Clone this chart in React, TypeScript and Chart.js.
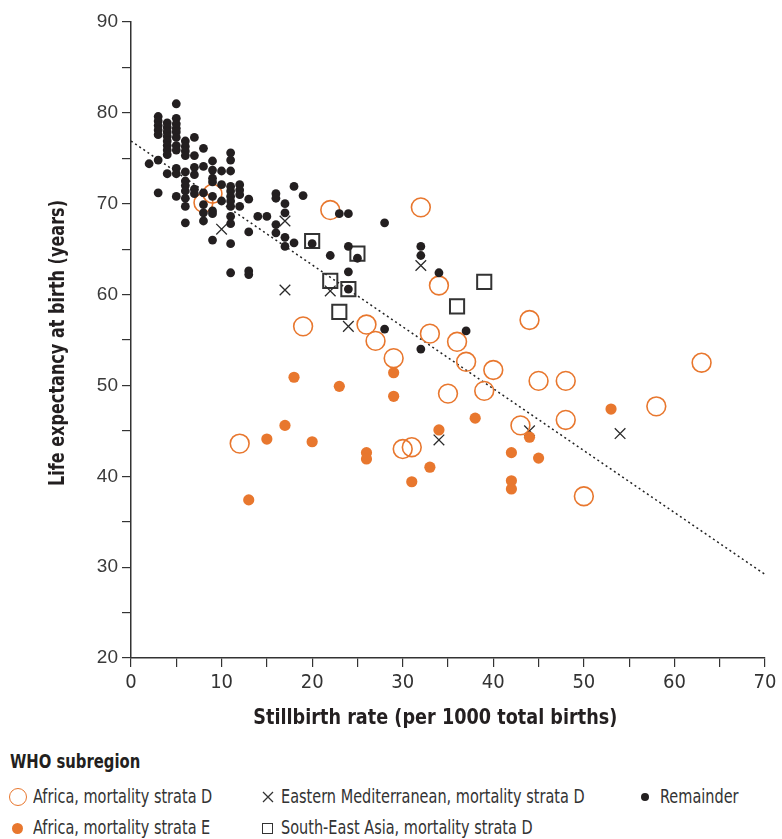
import React, { useEffect, useRef } from "react";
import { Chart, registerables } from "chart.js";

Chart.register(...registerables);

// ---- Data (stillbirth rate, life expectancy) ----
const africaD: [number, number][] = [
  [8, 70.1], [9, 71.1], [12, 43.6], [19, 56.5], [22, 69.3], [26, 56.7], [27, 54.9],
  [29, 53.0], [30, 43.0], [31, 43.2], [32, 69.6], [33, 55.7], [34, 61.0], [35, 49.1],
  [36, 54.8], [37, 52.6], [39, 49.4], [40, 51.7], [43, 45.6], [44, 57.2], [45, 50.5],
  [48, 50.5], [48, 46.2], [50, 37.8], [58, 47.7], [63, 52.5],
];

const africaE: [number, number][] = [
  [13, 37.4], [15, 44.1], [17, 45.6], [18, 50.9], [20, 43.8], [23, 49.9], [26, 42.6],
  [26, 41.9], [29, 51.4], [29, 48.8], [31, 39.4], [33, 41.0], [34, 45.1], [38, 46.4],
  [42, 42.6], [42, 39.5], [42, 38.6], [44, 44.3], [45, 42.0], [53, 47.4],
];

const eastMed: [number, number][] = [
  [10, 67.2], [17, 68.1], [17, 60.5], [22, 60.4], [24, 56.5], [32, 63.2], [34, 44.0],
  [44, 45.0], [54, 44.7],
];

const seAsia: [number, number][] = [
  [20, 65.9], [22, 61.5], [23, 58.1], [24, 60.6], [25, 64.5], [36, 58.7], [39, 61.4],
];

const remainder: [number, number][] = [
  [2, 74.4],
  [3, 79.6], [3, 79.1], [3, 78.6], [3, 78.1], [3, 77.6], [3, 74.8], [3, 71.2],
  [4, 78.9], [4, 78.4], [4, 77.9], [4, 77.4], [4, 76.9], [4, 76.4], [4, 75.9], [4, 75.4], [4, 73.3],
  [5, 81.0], [5, 79.4], [5, 78.8], [5, 78.3], [5, 77.9], [5, 77.3], [5, 76.4], [5, 75.9], [5, 73.9], [5, 73.3], [5, 70.8],
  [6, 76.9], [6, 76.3], [6, 75.8], [6, 75.3], [6, 73.5], [6, 72.5], [6, 72.0], [6, 71.4], [6, 70.6], [6, 69.7], [6, 67.9],
  [7, 77.3], [7, 75.3], [7, 74.0], [7, 73.2], [7, 71.6], [7, 71.1],
  [8, 76.1], [8, 74.1], [8, 71.2], [8, 69.9], [8, 69.0], [8, 68.1],
  [9, 74.7], [9, 73.7], [9, 72.8], [9, 72.4], [9, 70.8], [9, 69.2], [9, 68.9], [9, 66.0],
  [10, 73.6], [10, 72.1], [10, 70.3],
  [11, 75.6], [11, 74.8], [11, 73.6], [11, 71.9], [11, 71.4], [11, 70.8], [11, 70.3], [11, 69.7], [11, 68.6], [11, 67.8], [11, 65.6], [11, 62.4],
  [12, 72.1], [12, 71.5], [12, 71.0], [12, 69.7],
  [13, 70.5], [13, 66.9], [13, 62.6], [13, 62.2],
  [14, 68.6], [15, 68.6],
  [16, 71.1], [16, 70.6], [16, 67.7], [16, 66.8],
  [17, 70.0], [17, 69.0], [17, 66.3], [17, 65.3],
  [18, 71.9], [18, 65.7], [19, 70.9], [20, 65.6], [22, 64.3], [23, 68.9],
  [24, 68.9], [24, 65.3], [24, 62.5], [24, 60.6], [25, 64.0],
  [28, 67.9], [28, 56.2], [32, 65.3], [32, 64.3], [32, 54.0], [34, 62.4], [37, 56.0],
];

const trendLine: [number, number][] = [[0, 76.9], [70, 29.2]];

const xTitle = "Stillbirth rate (per 1000 total births)";
const yTitle = "Life expectancy at birth (years)";
const legendTitle = "WHO subregion";
const seriesNames = [
  "Africa, mortality strata D",
  "Africa, mortality strata E",
  "Eastern Mediterranean, mortality strata D",
  "South-East Asia, mortality strata D",
  "Remainder",
];

const ORANGE = "#E8772E";
const DARK = "#231F20";
const NARROW = "'DejaVu Sans Condensed', 'Liberation Sans', sans-serif";

const toPts = (a: [number, number][]) => a.map(([x, y]) => ({ x, y }));

// Draws the two axis titles with a slightly condensed horizontal scale
const axisTitlePlugin = {
  id: "axisTitles",
  afterDraw(chart: any) {
    const { ctx, chartArea } = chart;
    ctx.save();
    ctx.fillStyle = DARK;
    ctx.font = `bold 21px ${NARROW}`;
    ctx.textAlign = "center";
    ctx.textBaseline = "middle";
    // x title
    ctx.save();
    const xc = chartArea.left + (chartArea.right - chartArea.left) * 0.48;
    ctx.translate(xc, chartArea.bottom + 60);
    ctx.scale(0.935, 1.05);
    ctx.fillText(xTitle, 0, 0);
    ctx.restore();
    // y title
    ctx.save();
    ctx.translate(58, (chartArea.top + chartArea.bottom) / 2 + 3);
    ctx.rotate(-Math.PI / 2);
    ctx.scale(0.85, 1.05);
    ctx.fillText(yTitle, 0, 0);
    ctx.restore();
    ctx.restore();
  },
};

function Icon({ kind }: { kind: number }) {
  const base: React.CSSProperties = { position: "absolute", boxSizing: "border-box" };
  if (kind === 0)
    return <span style={{ ...base, left: 9, top: -9, width: 18, height: 18, borderRadius: "50%", border: `1.5px solid ${ORANGE}` }} />;
  if (kind === 1)
    return <span style={{ ...base, left: 12, top: -5, width: 11, height: 11, borderRadius: "50%", background: ORANGE }} />;
  if (kind === 2)
    return (
      <svg style={{ position: "absolute", left: 262, top: -6 }} width="12" height="12">
        <path d="M1 1 L11 11 M11 1 L1 11" stroke="#333" strokeWidth="1.3" />
      </svg>
    );
  if (kind === 3)
    return <span style={{ ...base, left: 262, top: -5, width: 11, height: 11, border: "1.5px solid #333" }} />;
  return <span style={{ ...base, left: 641, top: -4, width: 8, height: 8, borderRadius: "50%", background: DARK }} />;
}

export default function App() {
  const ref = useRef<HTMLCanvasElement | null>(null);

  useEffect(() => {
    document.body.style.margin = "0";
    if (!ref.current) return;
    const chart = new Chart(ref.current, {
      type: "scatter",
      data: {
        datasets: [
          {
            label: seriesNames[4],
            data: toPts(remainder),
            pointStyle: "circle",
            pointRadius: 4.4,
            backgroundColor: DARK,
            borderWidth: 0,
            order: 1,
          },
          {
            label: seriesNames[0],
            data: toPts(africaD),
            pointStyle: "circle",
            pointRadius: 9.4,
            backgroundColor: "rgba(0,0,0,0)",
            borderColor: ORANGE,
            borderWidth: 1.6,
            order: 2,
          },
          {
            label: seriesNames[1],
            data: toPts(africaE),
            pointStyle: "circle",
            pointRadius: 5.6,
            backgroundColor: ORANGE,
            borderWidth: 0,
            order: 3,
          },
          {
            label: seriesNames[2],
            data: toPts(eastMed),
            pointStyle: "crossRot",
            pointRadius: 7.5,
            borderColor: "#2a2a2a",
            borderWidth: 1.3,
            order: 4,
          },
          {
            label: seriesNames[3],
            data: toPts(seAsia),
            pointStyle: "rect",
            pointRadius: 10,
            backgroundColor: "rgba(0,0,0,0)",
            borderColor: "#333",
            borderWidth: 2,
            order: 5,
          },
          {
            label: "trend",
            data: toPts(trendLine),
            showLine: true,
            borderColor: "#222",
            borderWidth: 1.5,
            borderDash: [2, 3],
            pointRadius: 0,
            order: 6,
          },
        ],
      },
      options: {
        animation: false,
        responsive: false,
        devicePixelRatio: 1,
        layout: { padding: { left: 0, right: 17, top: 22, bottom: 0 } },
        plugins: { legend: { display: false }, tooltip: { enabled: false } },
        scales: {
          x: {
            type: "linear",
            min: 0,
            max: 70,
            afterFit: (s: any) => { s.height = 82; },
            border: { color: "#333", width: 1.5 },
            grid: { drawOnChartArea: false, drawTicks: true, tickLength: 9, color: "#333", lineWidth: 1.2 },
            ticks: {
              stepSize: 5,
              autoSkip: false,
              maxRotation: 0,
              padding: 4,
              color: "#333",
              font: { family: NARROW, size: 20 },
              callback: (v: any) => (Number(v) % 10 === 0 ? String(v) : ""),
            },
            title: { display: false, text: xTitle },
          },
          y: {
            type: "linear",
            min: 20,
            max: 90,
            afterFit: (s: any) => { s.width = 131; },
            border: { color: "#333", width: 1.5 },
            grid: { drawOnChartArea: false, drawTicks: true, tickLength: 9, color: "#333", lineWidth: 1.2 },
            ticks: {
              stepSize: 5,
              autoSkip: false,
              padding: 4,
              color: "#3a3a3a",
              font: { family: "'Liberation Sans', Arial, sans-serif", size: 19 },
              callback: (v: any) => (Number(v) % 10 === 0 ? String(v) : ""),
            },
            title: { display: false, text: yTitle },
          },
        },
      },
      plugins: [axisTitlePlugin],
    });
    return () => chart.destroy();
  }, []);

  const textStyle: React.CSSProperties = {
    position: "absolute",
    fontFamily: NARROW,
    fontSize: 18,
    color: "#333",
    lineHeight: "22px",
    top: -11,
    whiteSpace: "nowrap",
    transform: "scale(0.895, 1.08)",
    transformOrigin: "left center",
  };

  const rows = [
    { y: 797, items: [{ k: 0, x: 33 }, { k: 2, x: 281 }, { k: 4, x: 660 }] },
    { y: 828, items: [{ k: 1, x: 33 }, { k: 3, x: 281 }] },
  ];

  return (
    <div style={{ position: "relative", width: 782, height: 839, background: "#fff", overflow: "hidden" }}>
      <canvas ref={ref} width={782} height={740} style={{ position: "absolute", left: 0, top: 0, width: 782, height: 740 }} />
      <div
        style={{
          position: "absolute",
          left: 10,
          top: 751,
          fontFamily: NARROW,
          fontWeight: "bold",
          fontSize: 18,
          lineHeight: "22px",
          color: DARK,
          whiteSpace: "nowrap",
          transform: "scale(0.915, 1.05)",
          transformOrigin: "left center",
        }}
      >
        {legendTitle}
      </div>
      {rows.map((r, ri) => (
        <div key={ri} style={{ position: "absolute", left: 0, top: r.y, width: 782, height: 0 }}>
          {r.items.map((it) => (
            <React.Fragment key={it.k}>
              <Icon kind={it.k} />
              <span style={{ ...textStyle, left: it.x }}>{seriesNames[it.k]}</span>
            </React.Fragment>
          ))}
        </div>
      ))}
    </div>
  );
}
